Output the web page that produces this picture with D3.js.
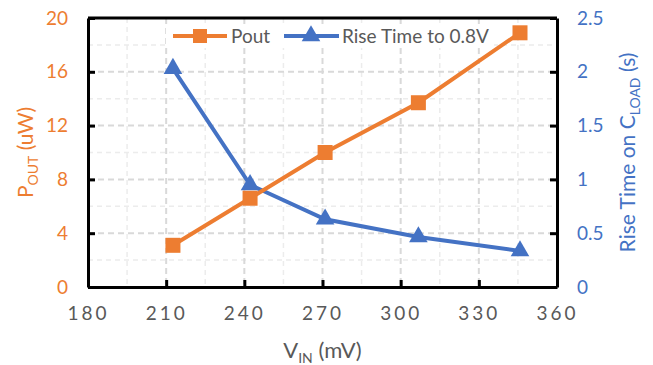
<!DOCTYPE html>
<html>
<head>
<meta charset="utf-8">
<script src="https://cdn.jsdelivr.net/npm/d3@7"></script>
<style>
  body { margin: 0; background: #fff; }
  text { font-family: Lato, "Open Sans", sans-serif; }
</style>
</head>
<body>
<div id="chart"></div>
<script>
var vin = [212.6, 242.2, 271, 306.8, 345.8];
var pout = [3.1, 6.6, 10.0, 13.7, 18.9];
var riseTime = [2.03, 0.95, 0.63, 0.465, 0.335];
var xTicks = [180, 210, 240, 270, 300, 330, 360];
var leftTicks = [0, 4, 8, 12, 16, 20];
var rightTicks = [0, 0.5, 1, 1.5, 2, 2.5];

var orange = "#ED7D31", blue = "#4472C4", grey = "#595959";
var margin = {top: 18, right: 96, bottom: 78, left: 88},
    width = 653 - margin.left - margin.right,
    height = 365 - margin.top - margin.bottom;

var svg = d3.select("#chart").append("svg")
    .attr("width", 653).attr("height", 365);
var g = svg.append("g")
    .attr("transform", "translate(" + margin.left + "," + margin.top + ")");

var x = d3.scaleLinear().domain([180, 360]).range([0, width]);
var yL = d3.scaleLinear().domain([0, 20]).range([height, 0]);
var yR = d3.scaleLinear().domain([0, 2.5]).range([height, 0]);

// minor grid
var minorX = d3.range(195, 360, 30);
var minorY = d3.range(2, 20, 4);
g.selectAll(".mx").data(minorX).enter().append("line")
    .attr("x1", d => x(d)).attr("x2", d => x(d)).attr("y1", 0).attr("y2", height)
    .attr("stroke", "#ececec").attr("stroke-width", 1.5).attr("stroke-dasharray", "5,4");
g.selectAll(".my").data(minorY).enter().append("line")
    .attr("y1", d => yL(d)).attr("y2", d => yL(d)).attr("x1", 0).attr("x2", width)
    .attr("stroke", "#ececec").attr("stroke-width", 1.5).attr("stroke-dasharray", "5,4");
// major grid
g.selectAll(".gx").data(xTicks.slice(1, -1)).enter().append("line")
    .attr("x1", d => x(d)).attr("x2", d => x(d)).attr("y1", 0).attr("y2", height)
    .attr("stroke", "#d9d9d9").attr("stroke-width", 2).attr("stroke-dasharray", "6,4");
g.selectAll(".gy").data(leftTicks.slice(1, -1)).enter().append("line")
    .attr("y1", d => yL(d)).attr("y2", d => yL(d)).attr("x1", 0).attr("x2", width)
    .attr("stroke", "#d9d9d9").attr("stroke-width", 2).attr("stroke-dasharray", "6,4");

// legend (behind series)
var tri = d3.symbol().type(d3.symbolTriangle).size(150);
var leg = svg.append("g");
leg.append("rect").attr("x", 166).attr("y", 24).attr("width", 328).attr("height", 24).attr("fill", "#fff");
leg.append("line").attr("x1", 173).attr("x2", 227).attr("y1", 36).attr("y2", 36)
    .attr("stroke", orange).attr("stroke-width", 4);
leg.append("rect").attr("x", 193).attr("y", 29).attr("width", 14).attr("height", 14).attr("fill", orange);
leg.append("text").attr("x", 231).attr("y", 43).attr("fill", grey).style("font-size", "19px").text("Pout");
leg.append("line").attr("x1", 284).attr("x2", 339).attr("y1", 36).attr("y2", 36)
    .attr("stroke", blue).attr("stroke-width", 4);
leg.append("path").attr("d", tri).attr("fill", blue).attr("transform", "translate(311,36)");
leg.append("text").attr("x", 342).attr("y", 43).attr("fill", grey).style("font-size", "19px").text("Rise Time to 0.8V");

// axes (ticks inside)
var xAxis = g.append("g").attr("transform", "translate(0," + height + ")")
    .call(d3.axisBottom(x).tickValues(xTicks).tickSizeInner(-7).tickSizeOuter(0).tickPadding(20));
var lAxis = g.append("g")
    .call(d3.axisLeft(yL).tickValues(leftTicks).tickSizeInner(-7).tickSizeOuter(0).tickPadding(20));
var rAxis = g.append("g").attr("transform", "translate(" + width + ",0)")
    .call(d3.axisRight(yR).tickValues(rightTicks).tickFormat(d3.format("")).tickSizeInner(-7).tickSizeOuter(0).tickPadding(20));
[xAxis, lAxis, rAxis].forEach(function(a) {
    a.select(".domain").attr("stroke", "#000").attr("stroke-width", 3);
    a.selectAll(".tick line").attr("stroke", "#000").attr("stroke-width", 3);
    a.selectAll(".tick text").style("font-size", "19px");
});
xAxis.selectAll(".tick text").attr("fill", grey).style("letter-spacing", "3px");
lAxis.selectAll(".tick text").attr("fill", orange);
rAxis.selectAll(".tick text").attr("fill", blue);
g.append("line").attr("x1", 0).attr("x2", width).attr("y1", 0).attr("y2", 0)
    .attr("stroke", "#000").attr("stroke-width", 3);

// series
var poutLine = d3.line().x((d, i) => x(vin[i])).y(d => yL(d));
var riseLine = d3.line().x((d, i) => x(vin[i])).y(d => yR(d));

g.append("path").datum(riseTime).attr("d", riseLine)
    .attr("fill", "none").attr("stroke", blue).attr("stroke-width", 4);
g.selectAll(".tri").data(riseTime).enter().append("path")
    .attr("d", tri).attr("fill", blue)
    .attr("transform", (d, i) => "translate(" + x(vin[i]) + "," + yR(d) + ")");

g.append("path").datum(pout).attr("d", poutLine)
    .attr("fill", "none").attr("stroke", orange).attr("stroke-width", 4);
g.selectAll(".sq").data(pout).enter().append("rect")
    .attr("x", (d, i) => x(vin[i]) - 7.5).attr("y", d => yL(d) - 7.5)
    .attr("width", 15).attr("height", 15).attr("fill", orange);

// axis titles
var xt = svg.append("text").attr("x", margin.left + width / 2).attr("y", 358)
    .attr("text-anchor", "middle").attr("fill", grey).style("font-size", "22px");
xt.append("tspan").text("V");
xt.append("tspan").attr("dy", 5).style("font-size", "14px").text("IN");
xt.append("tspan").attr("dy", -5).text(" (mV)");

var lt = svg.append("text")
    .attr("transform", "translate(33," + (margin.top + height / 2) + ") rotate(-90)")
    .attr("text-anchor", "middle").attr("fill", orange).style("font-size", "21px");
lt.append("tspan").text("P");
lt.append("tspan").attr("dy", 5).style("font-size", "14px").text("OUT");
lt.append("tspan").attr("dy", -5).text(" (uW)");

var rt = svg.append("text")
    .attr("transform", "translate(635," + (margin.top + height / 2) + ") rotate(-90)")
    .attr("text-anchor", "middle").attr("fill", blue).style("font-size", "21px");
rt.append("tspan").text("Rise Time on C");
rt.append("tspan").attr("dy", 5).style("font-size", "14px").text("LOAD");
rt.append("tspan").attr("dy", -5).text(" (s)");
</script>
</body>
</html>
